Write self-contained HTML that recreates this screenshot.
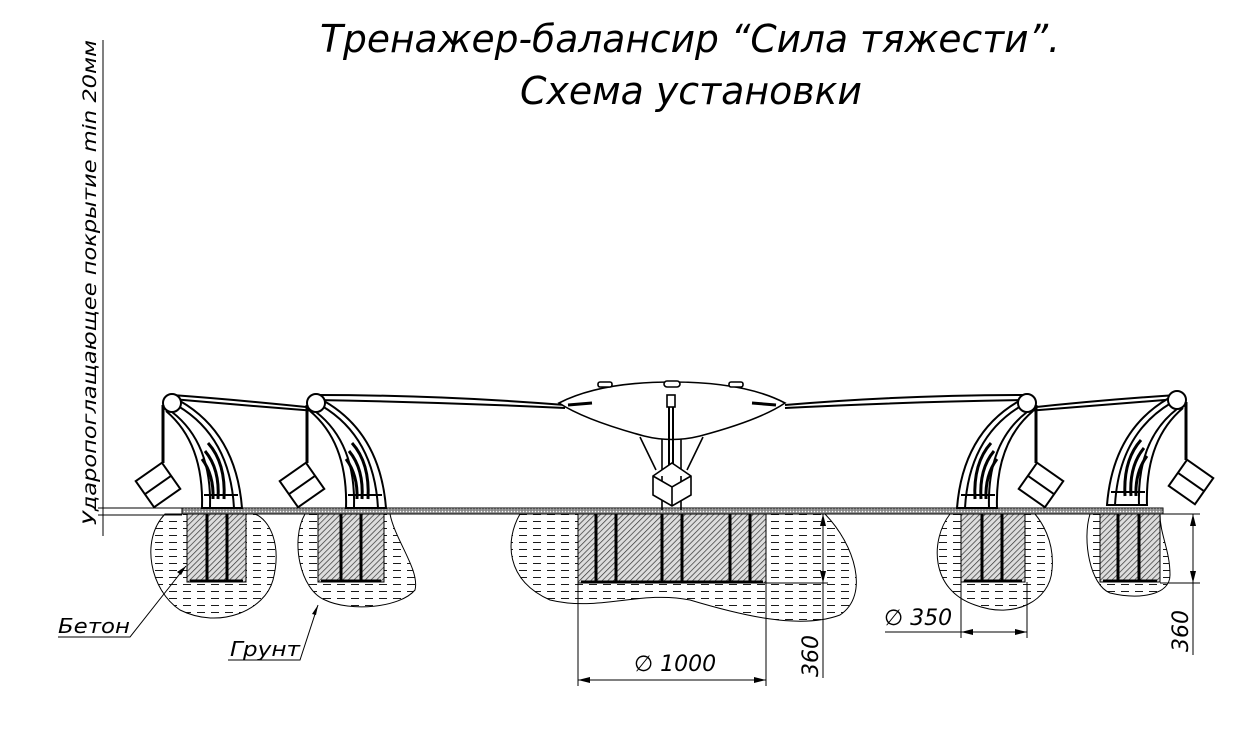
<!DOCTYPE html>
<html><head><meta charset="utf-8"><style>
html,body{margin:0;padding:0;background:#fff}
svg{display:block}
text{font-family:"DejaVu Sans","Liberation Sans",sans-serif;font-style:italic;fill:#000}
</style></head><body>
<svg width="1258" height="753" viewBox="0 0 1258 753" xmlns="http://www.w3.org/2000/svg">
<defs>
<pattern id="soil" width="14" height="7" patternUnits="userSpaceOnUse">
<line x1="1" y1="3.5" x2="9" y2="3.5" stroke="#000" stroke-width="0.9"/>
</pattern>
<pattern id="hatch" width="4" height="4" patternUnits="userSpaceOnUse" patternTransform="rotate(45)">
<rect width="4" height="4" fill="#ddd"/><line x1="0" y1="0" x2="0" y2="4" stroke="#333" stroke-width="1.4"/>
</pattern>
<pattern id="grnd" width="3" height="3" patternUnits="userSpaceOnUse">
<rect width="3" height="3" fill="#888"/><circle cx="1.5" cy="1.5" r="0.8" fill="#fff"/>
</pattern>
<g id="arch" fill="none" stroke="#000" stroke-width="2">
<path d="M-6,8 Q32,40 30,105 L70,105 Q64,30 8,-2" fill="#fff"/>
<path d="M0,9 Q40,40 38,105 M6,3 Q58,34 62,105"/>
<path d="M36,40 Q54,60 52,96 M33,48 Q48,66 46,96 M30,56 Q42,72 41,96" stroke-width="3"/>
<line x1="32" y1="92" x2="66" y2="92"/>
<circle cx="0" cy="0" r="9" fill="#fff"/>
<path d="M-9,2 L-9,60" stroke-width="3"/>
<g transform="translate(-14,82) rotate(-35)"><rect x="-16" y="-16" width="32" height="32" fill="#fff"/><line x1="-16" y1="0" x2="16" y2="0"/></g>
</g>
</defs>

<text x="320" y="52" font-size="38" textLength="740" lengthAdjust="spacingAndGlyphs">Тренажер-балансир “Сила тяжести”.</text>
<text x="520" y="104" font-size="38" textLength="342" lengthAdjust="spacingAndGlyphs">Схема установки</text>

<!-- left vertical dimension -->
<line x1="103" y1="40" x2="103" y2="536" stroke="#000" stroke-width="1"/>
<line x1="98" y1="508" x2="182" y2="508" stroke="#000"/>
<line x1="98" y1="515" x2="182" y2="515" stroke="#000"/>
<text transform="translate(96,525) rotate(-90)" font-size="19" textLength="485" lengthAdjust="spacingAndGlyphs">Ударопоглащающее покрытие min 20мм</text>

<!-- soil blobs -->
<g fill="url(#soil)" stroke="#000" stroke-width="1">
<path d="M165,514 C140,540 150,590 180,610 C220,630 265,610 273,580 C282,545 270,520 255,514 Z"/>
<path d="M305,514 C290,540 300,590 325,600 C350,612 400,608 415,590 C420,570 395,540 390,514 Z"/>
<path d="M520,514 C505,540 505,580 550,600 C600,612 640,590 690,600 C740,615 800,630 840,615 C870,595 855,545 825,514 Z"/>
<path d="M950,514 C930,540 930,590 975,605 C1015,620 1050,600 1052,570 C1055,540 1040,520 1035,514 Z"/>
<path d="M1090,514 C1082,540 1090,585 1110,593 C1140,600 1170,595 1170,575 C1170,550 1160,535 1160,514 Z"/>
</g>
<!-- footings -->
<g fill="url(#hatch)" stroke="#000" stroke-width="1">
<rect x="187" y="514" width="59" height="68"/>
<rect x="318" y="514" width="66" height="68"/>
<rect x="578" y="514" width="188" height="69"/>
<rect x="961" y="514" width="64" height="68"/>
<rect x="1100" y="514" width="60" height="68"/>
</g>
<g stroke="#000" stroke-width="3">
<path d="M207,514V582 M227,514V582 M190,581H243"/>
<path d="M341,514V582 M361,514V582 M321,581H381"/>
<path d="M596,514V583 M616,514V583 M662,514V583 M682,514V583 M730,514V583 M750,514V583 M581,582H763"/>
<path d="M982,514V582 M1002,514V582 M964,581H1022"/>
<path d="M1118,514V582 M1139,514V582 M1103,581H1157"/>
</g>
<!-- ground strip -->
<rect x="182" y="508" width="981" height="6" fill="url(#grnd)" stroke="#000" stroke-width="1"/>

<!-- ropes -->
<g fill="none" stroke="#000" stroke-width="2">
<path d="M172,395 Q240,400 316,408"/>
<path d="M172,399 Q240,405 316,411"/>
<path d="M316,395 Q440,395 565,405"/>
<path d="M316,400 Q440,402 565,408"/>
<path d="M785,405 Q900,395 1027,395"/>
<path d="M785,408 Q900,402 1027,400"/>
<path d="M1027,408 Q1100,400 1177,395"/>
<path d="M1027,411 Q1100,405 1177,399"/>
</g>

<use href="#arch" transform="translate(172,403)"/>
<use href="#arch" transform="translate(316,403)"/>
<use href="#arch" transform="translate(1027,403) scale(-1,1)"/>
<use href="#arch" transform="translate(1177,400) scale(-1,1)"/>

<!-- center -->
<g fill="none" stroke="#000" stroke-width="1.6">
<path d="M640,437 L656,470 M703,437 L687,470"/>
<path d="M662,437V510 M681,437V510"/>
<path d="M559,403 Q600,382 672,382 Q745,382 785,403 Q760,420 700,436 Q672,443 644,436 Q585,420 559,403 Z" fill="#fff"/>
<path d="M568,405 L592,403 M776,405 L752,403" stroke-width="3"/>
<rect x="598" y="382" width="14" height="5" rx="2" fill="#fff"/>
<rect x="664" y="381" width="16" height="6" rx="3" fill="#fff"/>
<rect x="729" y="382" width="14" height="5" rx="2" fill="#fff"/>
<rect x="667" y="395" width="8" height="12" fill="#fff"/>
<path d="M669,407V465 M673,407V465" stroke-width="2"/>
<path d="M672,463 L691,476 L691,495 L672,506 L653,495 L653,476 Z M653,476 L672,487 L691,476 M672,487V506" fill="#fff"/>
</g>

<!-- dimensions -->
<g stroke="#000" stroke-width="1" fill="none">
<path d="M578,583V686 M766,583V686 M578,680H766"/>
<path d="M766,514H828 M766,583H828 M823,514V678"/>
<path d="M961,582V638 M1027,582V638 M961,632H1027 M885,632H961"/>
<path d="M1160,514H1200 M1160,583H1200 M1193,514V655"/>
<path d="M58,637H130 L186,566"/>
<path d="M228,660H300 L318,605"/>
</g>
<g fill="#000">
<path d="M578,680 l12,-3 v6z M766,680 l-12,-3 v6z"/>
<path d="M823,514 l-3,12 h6z M823,583 l-3,-12 h6z"/>
<path d="M961,632 l12,-3 v6z M1027,632 l-12,-3 v6z"/>
<path d="M1193,514 l-3,12 h6z M1193,583 l-3,-12 h6z"/>
<path d="M186,566 l-9,6 4,3z M318,605 l-6,9 4,1z"/>
</g>
<text x="634" y="671" font-size="22">∅ 1000</text>
<text transform="translate(818,677) rotate(-90)" font-size="22">360</text>
<text x="884" y="625" font-size="22">∅ 350</text>
<text transform="translate(1188,652) rotate(-90)" font-size="22">360</text>
<text x="58" y="633" font-size="20" textLength="72" lengthAdjust="spacingAndGlyphs">Бетон</text>
<text x="230" y="656" font-size="20" textLength="70" lengthAdjust="spacingAndGlyphs">Грунт</text>
</svg>
</body></html>
